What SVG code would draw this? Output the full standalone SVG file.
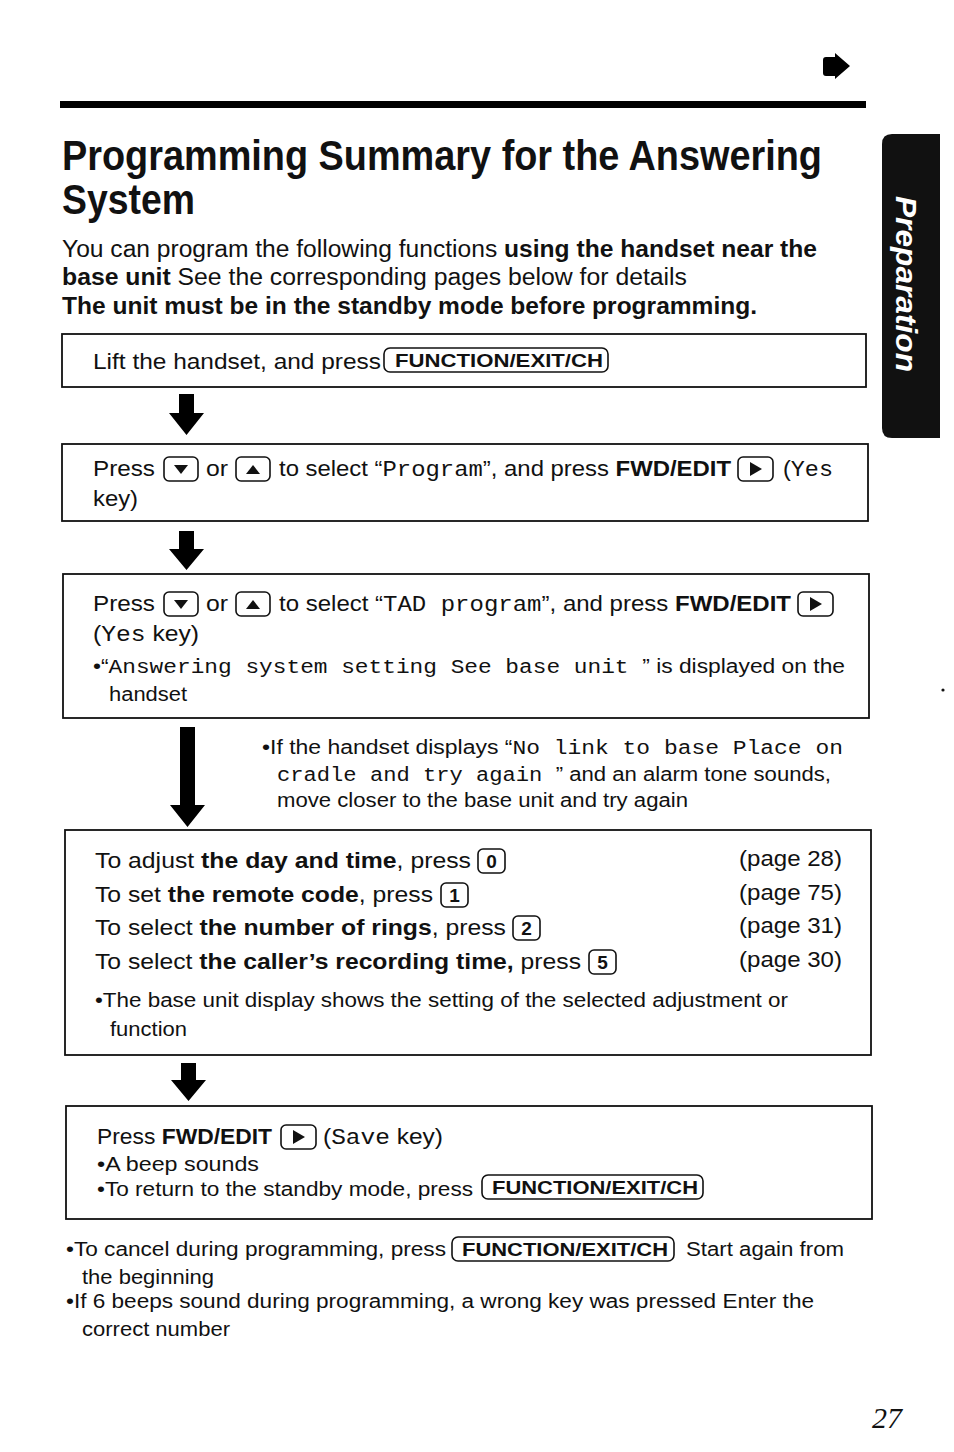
<svg xmlns="http://www.w3.org/2000/svg" width="954" height="1452" viewBox="0 0 954 1452">
<style>
text{font-family:"Liberation Sans",Arial,Helvetica,sans-serif;fill:#111}
.t{font-size:22px}
.s{font-size:19.5px}
.b{font-weight:bold}
.m{font-family:"Liberation Mono","Courier New",monospace;font-weight:normal}
.box{fill:none;stroke:#111;stroke-width:1.8}
.key{fill:none;stroke:#111;stroke-width:1.6}
.arr{fill:#000}
.kt{font-size:19px;font-weight:bold}
</style>
<defs>
<g id="kDown"><rect class="key" x="0" y="0" width="34" height="24" rx="5"/><polygon points="10,8 24,8 17,17" fill="#111"/></g>
<g id="kUp"><rect class="key" x="0" y="0" width="34" height="24" rx="5"/><polygon points="10,17 24,17 17,8" fill="#111"/></g>
<g id="kPlay"><rect class="key" x="0" y="0" width="35" height="24" rx="5"/><polygon points="12,5 12,19 24,12" fill="#111"/></g>
</defs>
<rect width="954" height="1452" fill="#fff"/>

<g id="header">
<path d="M826,57 H835 V53 L850,66 L835,79 V76 H826 Q823,76 823,73 V60 Q823,57 826,57 Z" fill="#000"/>
<rect x="60" y="101" width="806" height="7" fill="#000"/>
<text class="b" x="62" y="170" font-size="42" textLength="760" lengthAdjust="spacingAndGlyphs">Programming Summary for the Answering</text>
<text class="b" x="62" y="214" font-size="42" textLength="133" lengthAdjust="spacingAndGlyphs">System</text>
<text x="62" y="257" font-size="23" textLength="755" lengthAdjust="spacingAndGlyphs">You can program the following functions <tspan class="b">using the handset near the</tspan></text>
<text x="62" y="285" font-size="23" textLength="625" lengthAdjust="spacingAndGlyphs"><tspan class="b">base unit</tspan>  See the corresponding pages below for details</text>
<text class="b" x="62" y="314" font-size="23" textLength="695" lengthAdjust="spacingAndGlyphs">The unit must be in the standby mode before programming.</text>
</g>

<g id="tab">
<path d="M892,134 H940 V438 H892 Q882,438 882,428 V144 Q882,134 892,134 Z" fill="#111"/>
<text transform="translate(896,196) rotate(90)" font-size="30" font-weight="bold" font-style="italic" style="fill:#fff" textLength="176" lengthAdjust="spacingAndGlyphs">Preparation</text>
</g>

<g id="box1">
<rect class="box" x="62" y="334" width="804" height="53"/>
<text class="t" x="93" y="369" textLength="288" lengthAdjust="spacingAndGlyphs">Lift the handset, and press</text>
<rect class="key" x="384" y="348" width="224" height="24" rx="6"/>
<text class="kt" x="395" y="367" textLength="208" lengthAdjust="spacingAndGlyphs">FUNCTION/EXIT/CH</text>
</g>

<g id="box2">
<rect class="box" x="62" y="444" width="806" height="77"/>
<text class="t" x="93" y="476" textLength="62" lengthAdjust="spacingAndGlyphs">Press</text>
<use href="#kDown" x="164" y="457"/>
<text class="t" x="206" y="476" textLength="22" lengthAdjust="spacingAndGlyphs">or</text>
<use href="#kUp" x="236" y="457"/>
<text class="t" x="279" y="476" textLength="452" lengthAdjust="spacingAndGlyphs">to select “<tspan class="m">Program</tspan>”, and press <tspan class="b">FWD/EDIT</tspan></text>
<use href="#kPlay" x="738" y="457"/>
<text class="t" x="783" y="476" textLength="50" lengthAdjust="spacingAndGlyphs">(<tspan class="m">Yes</tspan></text>
<text class="t" x="93" y="506" textLength="45" lengthAdjust="spacingAndGlyphs">key)</text>
</g>

<g id="box3">
<rect class="box" x="63" y="574" width="806" height="144"/>
<text class="t" x="93" y="611" textLength="62" lengthAdjust="spacingAndGlyphs">Press</text>
<use href="#kDown" x="164" y="592"/>
<text class="t" x="206" y="611" textLength="22" lengthAdjust="spacingAndGlyphs">or</text>
<use href="#kUp" x="236" y="592"/>
<text class="t" x="279" y="611" textLength="512" lengthAdjust="spacingAndGlyphs">to select “<tspan class="m">TAD program</tspan>”, and press <tspan class="b">FWD/EDIT</tspan></text>
<use href="#kPlay" x="798" y="592"/>
<text class="t" x="93" y="641" textLength="106" lengthAdjust="spacingAndGlyphs">(<tspan class="m">Yes</tspan> key)</text>
<text class="s" x="93" y="673" textLength="752" lengthAdjust="spacingAndGlyphs">•“<tspan class="m">Answering system setting  See base unit </tspan>” is displayed on the</text>
<text class="s" x="109" y="701" textLength="78" lengthAdjust="spacingAndGlyphs">handset</text>
</g>

<g id="note">
<text class="s" x="262" y="754" textLength="581" lengthAdjust="spacingAndGlyphs">•If the handset displays “<tspan class="m">No link to base  Place on</tspan></text>
<text class="s" x="277" y="781" textLength="554" lengthAdjust="spacingAndGlyphs"><tspan class="m">cradle and try again </tspan>” and an alarm tone sounds,</text>
<text class="s" x="277" y="807" textLength="411" lengthAdjust="spacingAndGlyphs">move closer to the base unit and try again</text>
</g>

<g id="box4">
<rect class="box" x="65" y="830" width="806" height="225"/>
<text class="t" x="95" y="868" textLength="376" lengthAdjust="spacingAndGlyphs">To adjust <tspan class="b">the day and time</tspan>, press</text>
<rect class="key" x="478" y="849" width="27" height="24" rx="5"/>
<text class="kt" x="491.5" y="868" text-anchor="middle">0</text>
<text class="t" x="95" y="902" textLength="338" lengthAdjust="spacingAndGlyphs">To set <tspan class="b">the remote code</tspan>, press</text>
<rect class="key" x="441" y="883" width="27" height="24" rx="5"/>
<text class="kt" x="454.5" y="902" text-anchor="middle">1</text>
<text class="t" x="95" y="935" textLength="411" lengthAdjust="spacingAndGlyphs">To select <tspan class="b">the number of rings</tspan>, press</text>
<rect class="key" x="513" y="916" width="27" height="24" rx="5"/>
<text class="kt" x="526.5" y="935" text-anchor="middle">2</text>
<text class="t" x="95" y="969" textLength="486" lengthAdjust="spacingAndGlyphs">To select <tspan class="b">the caller’s recording time,</tspan> press</text>
<rect class="key" x="589" y="950" width="27" height="24" rx="5"/>
<text class="kt" x="602.5" y="969" text-anchor="middle">5</text>
<text class="t" x="739" y="866" textLength="103" lengthAdjust="spacingAndGlyphs">(page 28)</text>
<text class="t" x="739" y="900" textLength="103" lengthAdjust="spacingAndGlyphs">(page 75)</text>
<text class="t" x="739" y="933" textLength="103" lengthAdjust="spacingAndGlyphs">(page 31)</text>
<text class="t" x="739" y="967" textLength="103" lengthAdjust="spacingAndGlyphs">(page 30)</text>
<text class="s" x="95" y="1007" textLength="693" lengthAdjust="spacingAndGlyphs">•The base unit display shows the setting of the selected adjustment or</text>
<text class="s" x="110" y="1036" textLength="77" lengthAdjust="spacingAndGlyphs">function</text>
</g>

<g id="box5">
<rect class="box" x="66" y="1106" width="806" height="113"/>
<text class="t" x="97" y="1144" textLength="175" lengthAdjust="spacingAndGlyphs">Press <tspan class="b">FWD/EDIT</tspan></text>
<use href="#kPlay" x="281" y="1125"/>
<text class="t" x="323" y="1144" textLength="120" lengthAdjust="spacingAndGlyphs">(<tspan class="m">Save</tspan> key)</text>
<text class="s" x="97" y="1171" textLength="162" lengthAdjust="spacingAndGlyphs">•A beep sounds</text>
<text class="s" x="97" y="1196" textLength="376" lengthAdjust="spacingAndGlyphs">•To return to the standby mode, press</text>
<rect class="key" x="482" y="1175" width="221" height="24" rx="6"/>
<text class="kt" x="492" y="1194" textLength="206" lengthAdjust="spacingAndGlyphs">FUNCTION/EXIT/CH</text>
</g>

<g id="footer">
<text class="s" x="66" y="1256" textLength="380" lengthAdjust="spacingAndGlyphs">•To cancel during programming, press</text>
<rect class="key" x="452" y="1237" width="222" height="24" rx="6"/>
<text class="kt" x="462" y="1256" textLength="206" lengthAdjust="spacingAndGlyphs">FUNCTION/EXIT/CH</text>
<text class="s" x="686" y="1256" textLength="158" lengthAdjust="spacingAndGlyphs">Start again from</text>
<text class="s" x="82" y="1284" textLength="132" lengthAdjust="spacingAndGlyphs">the beginning</text>
<text class="s" x="66" y="1308" textLength="748" lengthAdjust="spacingAndGlyphs">•If 6 beeps sound during programming, a wrong key was pressed  Enter the</text>
<text class="s" x="82" y="1336" textLength="148" lengthAdjust="spacingAndGlyphs">correct number</text>
<text x="872" y="1428" font-family="Liberation Serif" font-style="italic" font-size="30" style="font-family:'Liberation Serif',serif">27</text>
<circle cx="943" cy="690" r="1.6" fill="#111"/>
</g>

<g id="connectors">
<path class="arr" d="M179,394 H194 V413 H204 L186.5,435 L169,413 H179 Z"/>
<path class="arr" d="M179,531 H194 V549 H204 L186.5,570 L169,549 H179 Z"/>
<path class="arr" d="M180,727 H195 V805 H205 L187.5,827 L170,805 H180 Z"/>
<path class="arr" d="M181,1063 H196 V1080 H206 L188.5,1101 L171,1080 H181 Z"/>
</g>
</svg>
